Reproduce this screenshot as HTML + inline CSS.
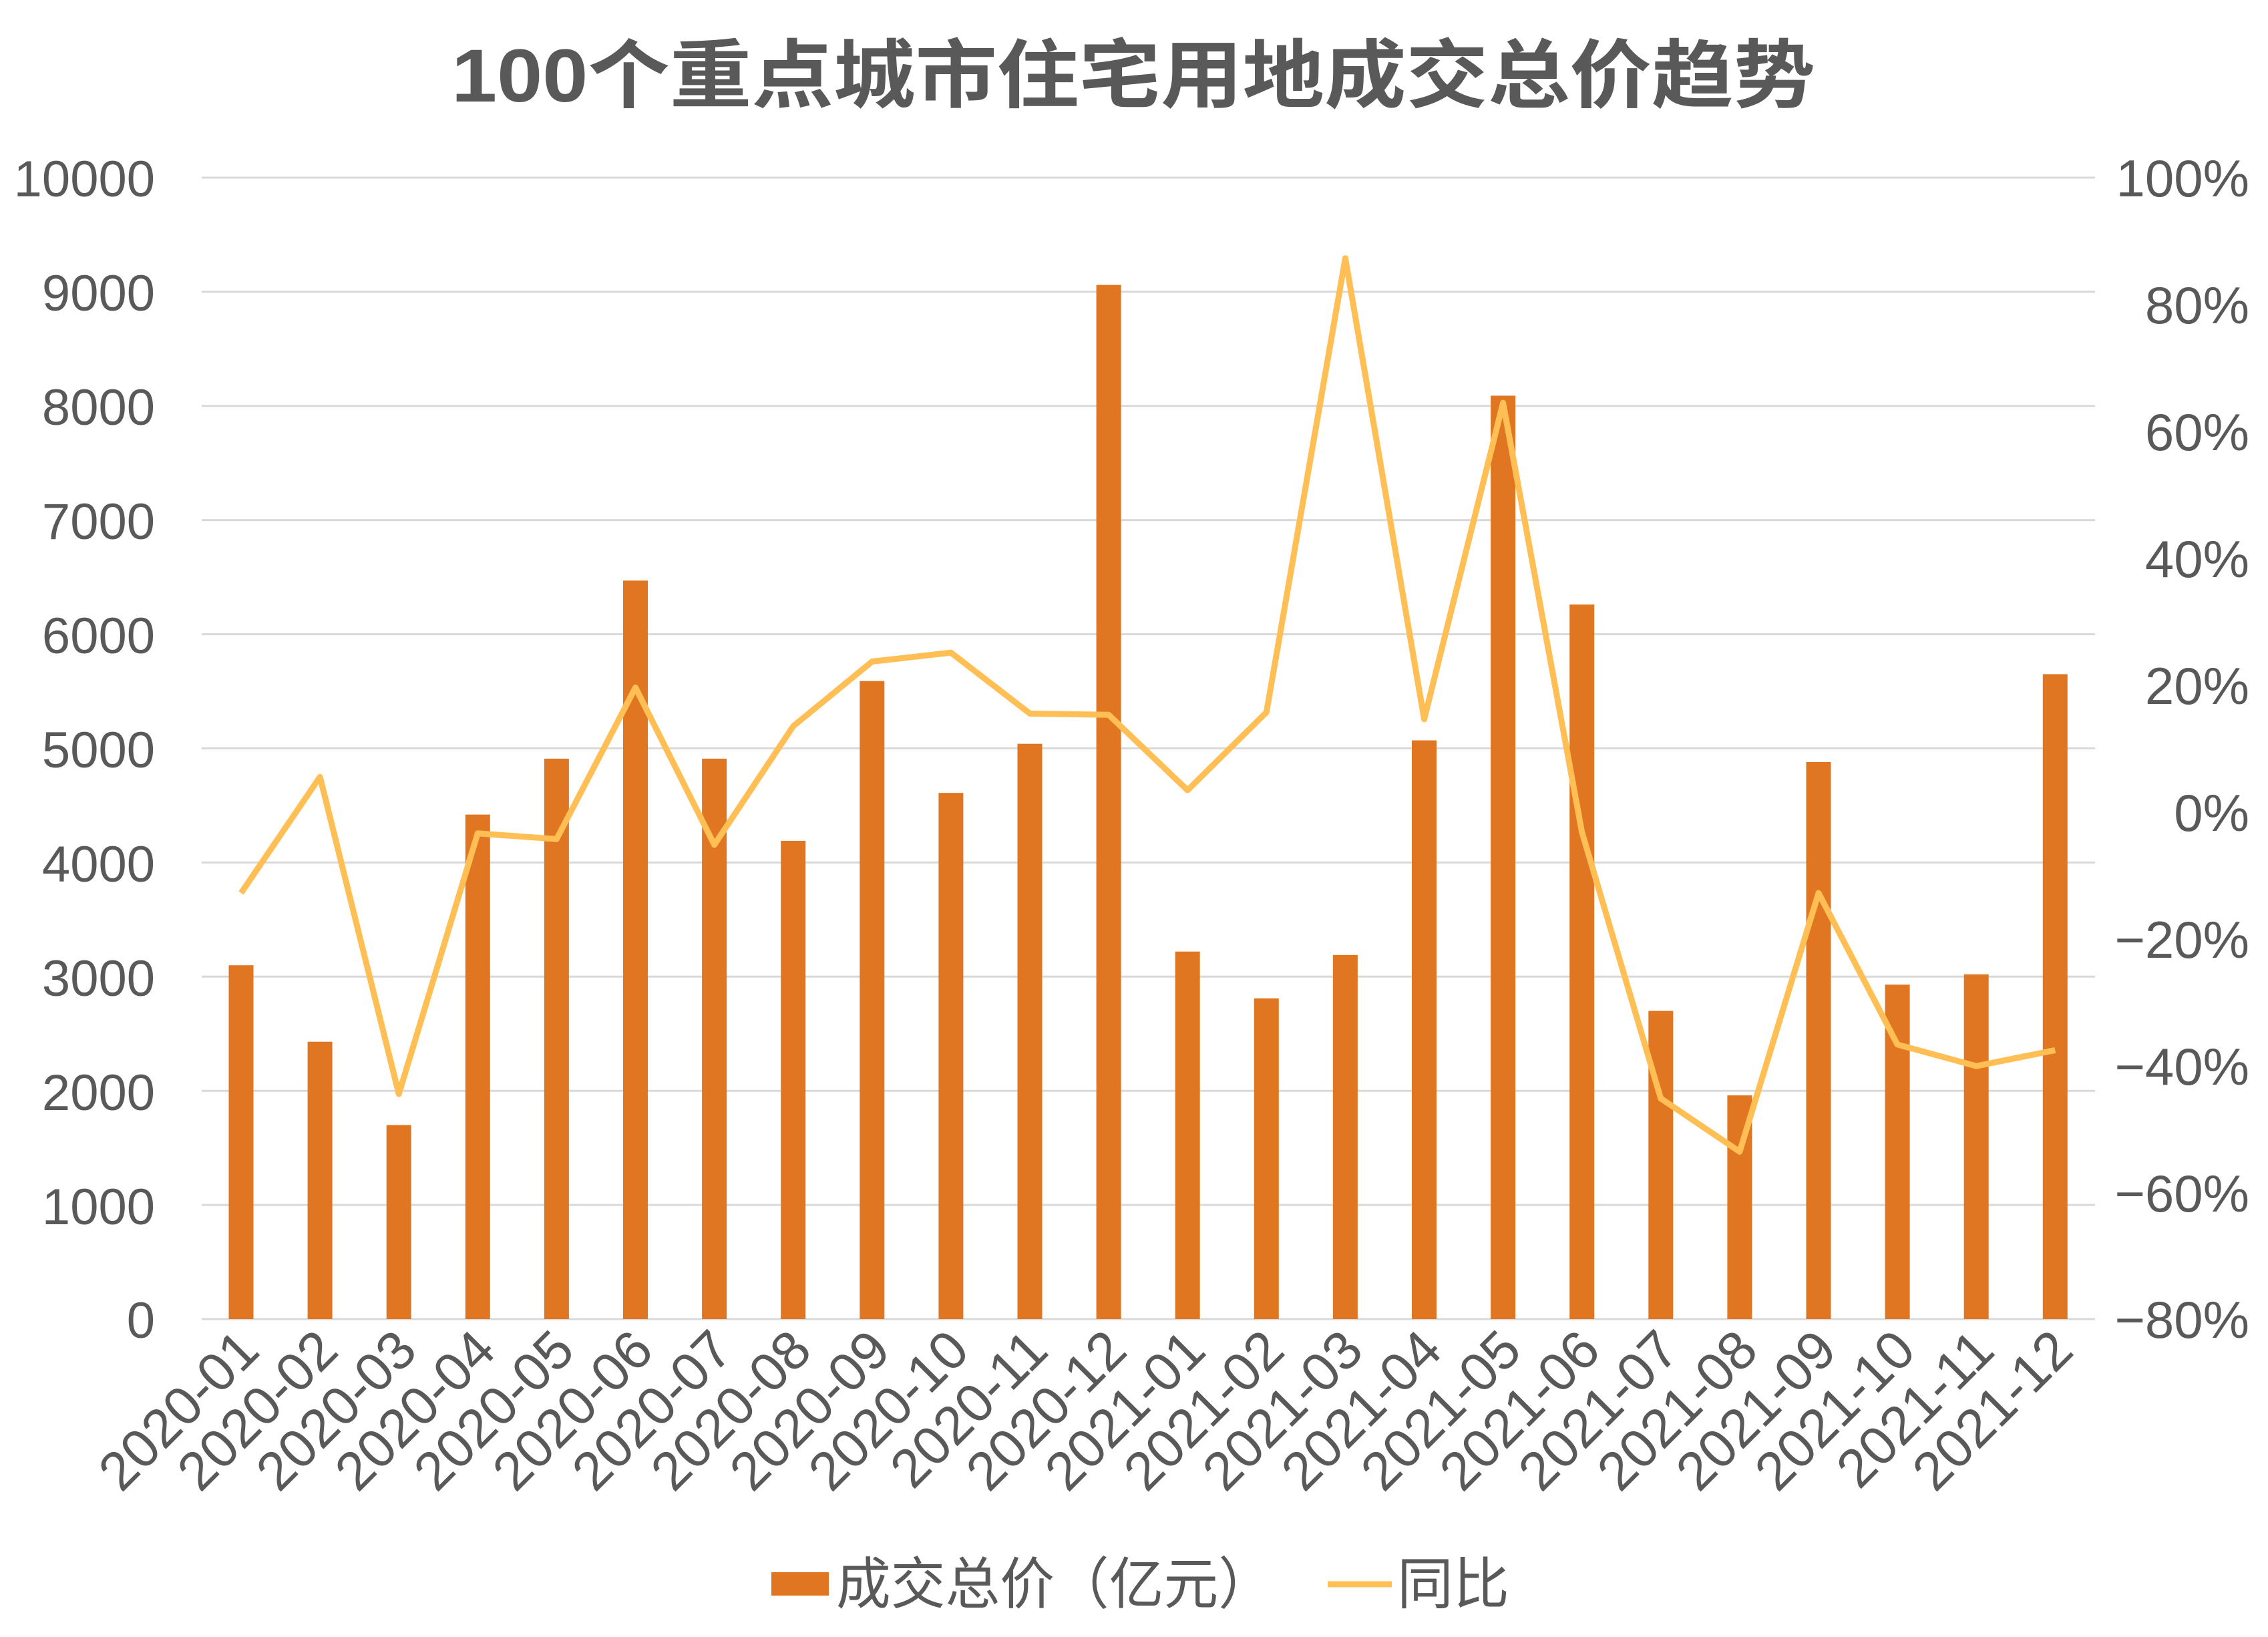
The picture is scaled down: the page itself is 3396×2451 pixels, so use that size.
<!DOCTYPE html>
<html><head><meta charset="utf-8"><style>
html,body{margin:0;padding:0;background:#fff}
svg{display:block}
text{font-family:"Liberation Sans","Noto Sans CJK SC",sans-serif;fill:#595959}
</style></head><body>
<svg id="c" width="3396" height="2451" viewBox="0 0 3396 2451" xmlns="http://www.w3.org/2000/svg">
<text x="676" y="152" font-size="112" font-weight="bold" textLength="2042" lengthAdjust="spacingAndGlyphs">100个重点城市住宅用地成交总价趋势</text>
<g id="grid" stroke="#d9d9d9" stroke-width="3"></g>
<g font-size="76" text-anchor="end">
<text x="232" y="294">10000</text><text x="232" y="465">9000</text><text x="232" y="636">8000</text><text x="232" y="807">7000</text><text x="232" y="978">6000</text><text x="232" y="1149">5000</text><text x="232" y="1320">4000</text><text x="232" y="1491">3000</text><text x="232" y="1662">2000</text><text x="232" y="1833">1000</text><text x="232" y="2003">0</text>
</g>
<g font-size="78" text-anchor="end">
<text x="3368" y="294">100%</text><text x="3368" y="484">80%</text><text x="3368" y="674">60%</text><text x="3368" y="864">40%</text><text x="3368" y="1054">20%</text><text x="3368" y="1244">0%</text><text x="3368" y="1434">−20%</text><text x="3368" y="1624">−40%</text><text x="3368" y="1814">−60%</text><text x="3368" y="2003">−80%</text>
</g>
<g id="bars" fill="#e07622"></g>
<polyline id="ln" fill="none" stroke="#ffbf55" stroke-width="9" stroke-linejoin="round"/>
<g font-size="81" text-anchor="end">
<text transform="translate(392,2026) rotate(-45)">2020-01</text>
<text transform="translate(510,2026) rotate(-45)">2020-02</text>
<text transform="translate(628,2026) rotate(-45)">2020-03</text>
<text transform="translate(746,2026) rotate(-45)">2020-04</text>
<text transform="translate(864,2026) rotate(-45)">2020-05</text>
<text transform="translate(982,2026) rotate(-45)">2020-06</text>
<text transform="translate(1101,2026) rotate(-45)">2020-07</text>
<text transform="translate(1219,2026) rotate(-45)">2020-08</text>
<text transform="translate(1337,2026) rotate(-45)">2020-09</text>
<text transform="translate(1455,2026) rotate(-45)">2020-10</text>
<text transform="translate(1573,2026) rotate(-45)">2020-11</text>
<text transform="translate(1691,2026) rotate(-45)">2020-12</text>
<text transform="translate(1809,2026) rotate(-45)">2021-01</text>
<text transform="translate(1927,2026) rotate(-45)">2021-02</text>
<text transform="translate(2045,2026) rotate(-45)">2021-03</text>
<text transform="translate(2163,2026) rotate(-45)">2021-04</text>
<text transform="translate(2282,2026) rotate(-45)">2021-05</text>
<text transform="translate(2400,2026) rotate(-45)">2021-06</text>
<text transform="translate(2518,2026) rotate(-45)">2021-07</text>
<text transform="translate(2636,2026) rotate(-45)">2021-08</text>
<text transform="translate(2754,2026) rotate(-45)">2021-09</text>
<text transform="translate(2872,2026) rotate(-45)">2021-10</text>
<text transform="translate(2990,2026) rotate(-45)">2021-11</text>
<text transform="translate(3108,2026) rotate(-45)">2021-12</text>
</g>
<rect x="1155" y="2354" width="86" height="35" fill="#e07622"/>
<text x="1252" y="2401" font-size="84" textLength="654" lengthAdjust="spacingAndGlyphs">成交总价（亿元）</text>
<line x1="1988" y1="2372" x2="2084" y2="2372" stroke="#ffbf55" stroke-width="9"/>
<text x="2092" y="2401" font-size="84">同比</text>
</svg>
<script>
var ns="http://www.w3.org/2000/svg";
var g=document.getElementById("grid");
for(var k=0;k<=10;k++){var y=1975-k*170.9;var l=document.createElementNS(ns,"line");l.setAttribute("x1",302);l.setAttribute("x2",3137);l.setAttribute("y1",y);l.setAttribute("y2",y);g.appendChild(l);}
var v=[3100,2430,1700,4420,4910,6470,4910,4190,5590,4610,5040,9060,3220,2810,3190,5070,8090,6260,2700,1960,4880,2930,3020,5650];
var p=[-12.8,5.5,-44.5,-3.4,-4.3,19.6,-5.2,13.5,23.7,25.1,15.5,15.3,3.4,15.7,87.3,14.6,64.5,-3.2,-45.2,-53.6,-12.8,-36.7,-40.1,-37.6];
var b=document.getElementById("bars"),pts=[];
for(var i=0;i<24;i++){var cx=361+118.1*i;var h=v[i]*0.1709;var r=document.createElementNS(ns,"rect");r.setAttribute("x",cx-18.5);r.setAttribute("width",37);r.setAttribute("y",1975-h);r.setAttribute("height",h);b.appendChild(r);pts.push(cx+","+(1975-(p[i]+80)*9.494));}
document.getElementById("ln").setAttribute("points",pts.join(" "));
</script>
</body></html>
